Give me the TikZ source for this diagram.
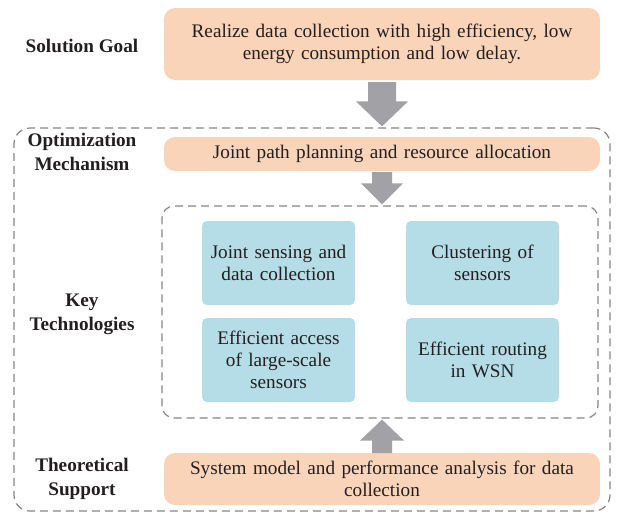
\documentclass[tikz,border=0pt]{standalone}
\usepackage{fontspec}
\setmainfont{Liberation Serif}
\usetikzlibrary{calc}
\definecolor{peach}{HTML}{FAD4B9}
\definecolor{skyb}{HTML}{B4DDE8}
\definecolor{arrgray}{HTML}{A2A2A6}
\definecolor{dashgray}{HTML}{858585}
\definecolor{txt}{HTML}{231F20}
\newcommand\fatarrow[5]{%
  \fill[arrgray] ($(#1)+(-#3,0)$) -- ($(#1)+(#3,0)$) -- ($(#2)+(#3,#5)$) -- ($(#2)+(#4,#5)$) -- (#2) -- ($(#2)+(-#4,#5)$) -- ($(#2)+(-#3,#5)$) -- cycle;}
\tikzset{
  base/.style={inner sep=0pt, outer sep=0pt, text=txt, font=\fontsize{19.2}{22}\selectfont, align=center},
  peachbox/.style={base, fill=peach, rounded corners=11pt, minimum width=436pt, text width=420pt},
  bluebox/.style={base, fill=skyb, rounded corners=5pt, minimum width=153pt, minimum height=84pt, text width=150pt},
  dashbox/.style={draw=dashgray, line width=1.2pt, dash pattern=on 8pt off 5pt, rounded corners=#1, inner sep=0pt},
  lbl/.style={base, font=\fontsize{19.2}{24}\selectfont\bfseries}
}
\begin{document}
\begin{tikzpicture}[x=1pt,y=1pt]
\useasboundingbox (0,0) rectangle (622,-515);
% dashed containers
\node[dashbox=16pt, minimum width=596pt, minimum height=383pt] (outer) at (312,-319.5) {};
\node[dashbox=12pt, minimum width=436pt, minimum height=212pt] (inner) at (380,-312) {};
% main boxes
\node[peachbox, minimum height=72pt] (goal) at (382,-44) {Realize data collection with high efficiency, low\\energy consumption and low delay.};
\node[peachbox, minimum height=34pt] (opt) at (382,-154) {Joint path planning and resource allocation};
\node[peachbox, minimum height=52pt] (theory) at (382,-479) {System model and performance analysis for data\\collection};
% technology boxes
\node[bluebox] (t1) at (278.5,-263) {Joint sensing and\\data collection};
\node[bluebox] (t2) at (482.5,-263) {Clustering of\\sensors};
\node[bluebox] (t3) at (278.5,-360) {Efficient access\\of large-scale\\sensors};
\node[bluebox] (t4) at (482.5,-360) {Efficient routing\\in WSN};
% left labels
\node[lbl] (l1) at (82,-46) {Solution Goal};
\node[lbl] (l2) at (82,-152) {Optimization\\Mechanism};
\node[lbl] (l3) at (82,-314) {Key\\Technologies};
\node[lbl] (l4) at (82,-479) {Theoretical\\Support};
% arrows
\coordinate (a1s) at ($(goal.south)+(0,-2)$);
\coordinate (a1e) at ($(a1s |- outer.north)+(0,1)$);
\fatarrow{a1s}{a1e}{14}{26}{25}
\coordinate (a2s) at ($(opt.south)+(0,-1)$);
\coordinate (a2e) at ($(a2s |- inner.north)+(0,1)$);
\fatarrow{a2s}{a2e}{10}{21}{21}
\coordinate (a3s) at (theory.north);
\coordinate (a3e) at ($(a3s |- inner.south)+(0,-1)$);
\fatarrow{a3s}{a3e}{10}{22}{-21}
\end{tikzpicture}
\end{document}
